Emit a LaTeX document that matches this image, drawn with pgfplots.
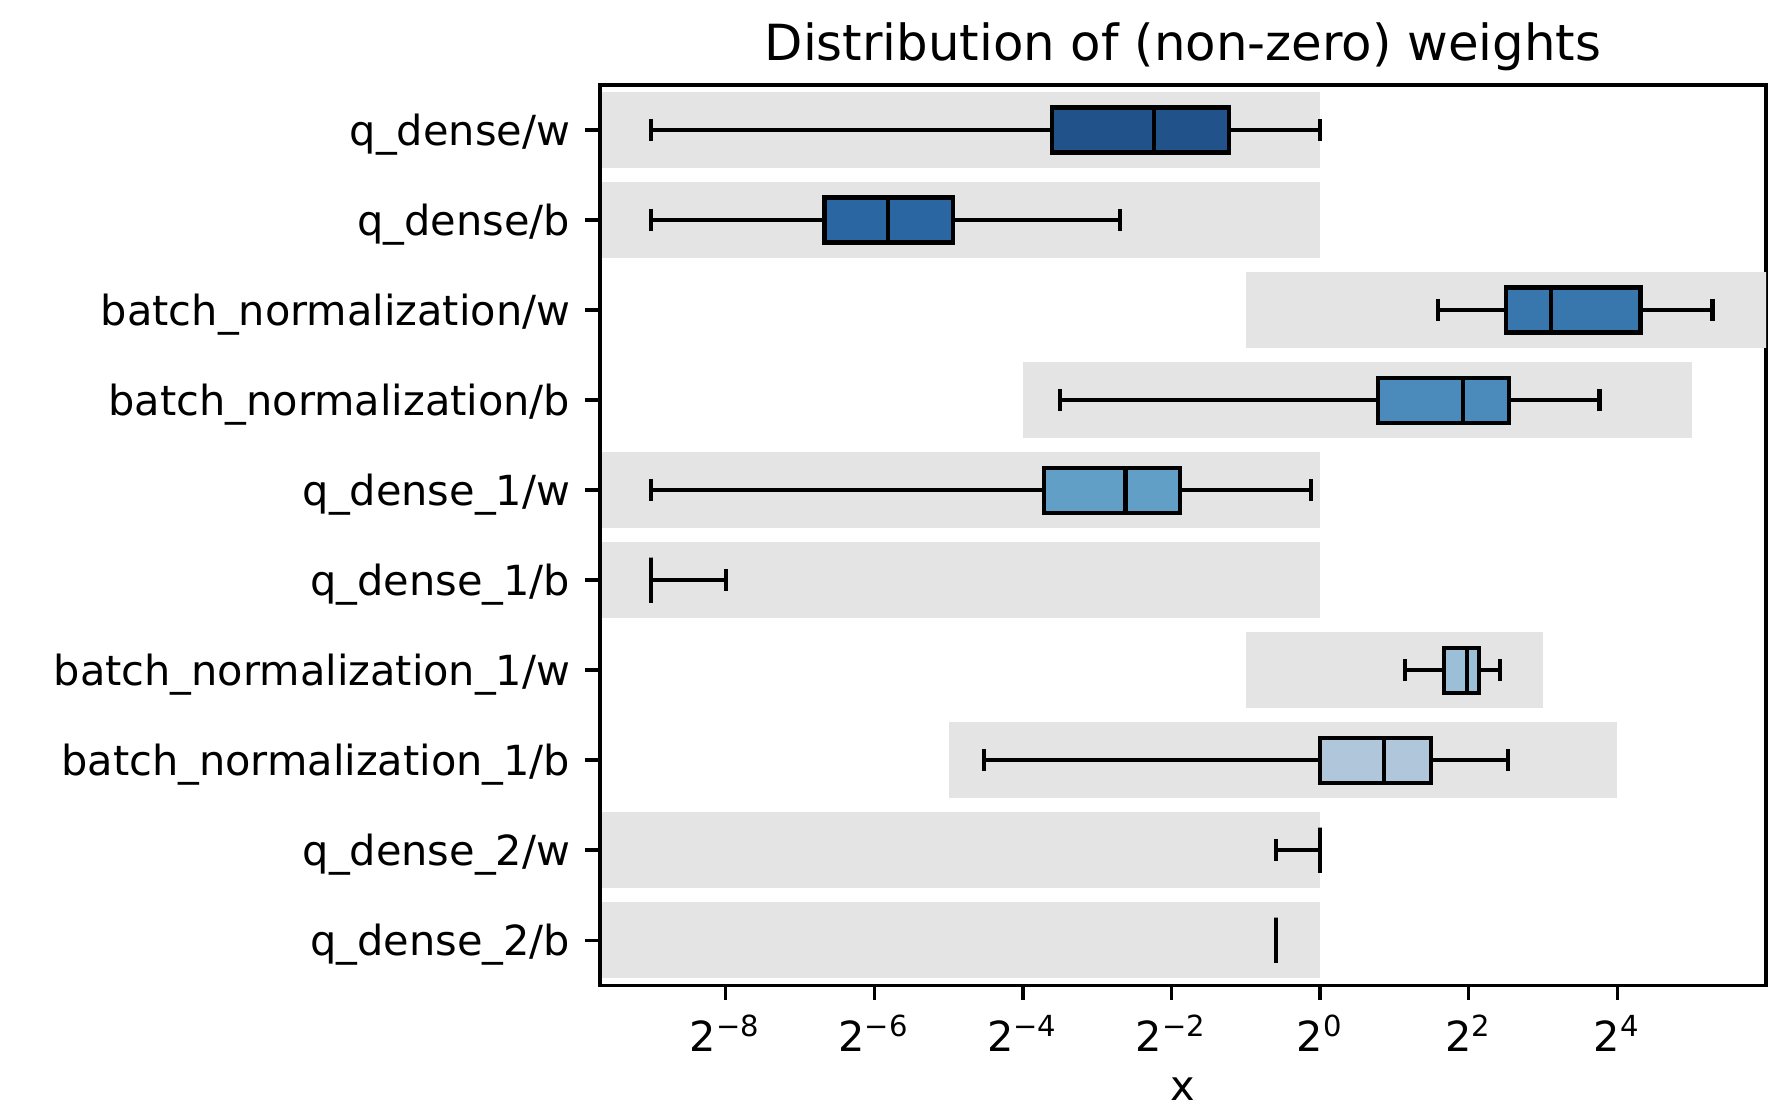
\documentclass[border=0pt]{standalone}
\usepackage{fontspec}
\setmainfont{DejaVu Sans}
\usepackage{pgfplots}
\pgfplotsset{compat=1.18}
\usepgfplotslibrary{statistics}

\definecolor{band}{HTML}{E4E4E4}
\definecolor{c1}{HTML}{215289}
\definecolor{c2}{HTML}{2A66A2}
\definecolor{c3}{HTML}{3877AE}
\definecolor{c4}{HTML}{4B8BBC}
\definecolor{c5}{HTML}{629FC6}
\definecolor{c6}{HTML}{7DB1D1}
\definecolor{c7}{HTML}{9BBFD7}
\definecolor{c8}{HTML}{B0C7DB}
\definecolor{c9}{HTML}{C6D5E4}
\definecolor{c10}{HTML}{DCE5EE}

% values are log2 of the weights
\pgfplotsset{
  bx/.style={draw=black, line width=1pt, fill=#1,
    boxplot/draw direction=x,
    boxplot/box extend=0.5,
    boxplot/whisker extend=0.25},
  bandfill/.style={fill=band, draw=none, forget plot},
}

\begin{document}
\begin{tikzpicture}
\begin{axis}[
    width=281.1pt, height=217.0pt, scale only axis,
    xmin=-9.69, xmax=6.0,
    ymin=0.5, ymax=10.5,
    y dir=reverse,
    axis line style={line width=0.8pt},
    tick style={line width=0.8pt, black},
    major tick length=3.5pt,
    tick align=outside,
    tick pos=left,
    xtick={-8,-6,-4,-2,0,2,4},
    xticklabels={2\textsuperscript{−8},2\textsuperscript{−6},2\textsuperscript{−4},2\textsuperscript{−2},2\textsuperscript{0},2\textsuperscript{2},2\textsuperscript{4}},
    xticklabel style={inner sep=0pt, anchor=north, yshift=-3.5pt},
    ytick={1,...,10},
    yticklabels={q\_dense/w, q\_dense/b, batch\_normalization/w, batch\_normalization/b,
      q\_dense\_1/w, q\_dense\_1/b, batch\_normalization\_1/w, batch\_normalization\_1/b,
      q\_dense\_2/w, q\_dense\_2/b},
    yticklabel style={inner sep=0pt, anchor=east, xshift=-3.5pt, yshift=-1.1pt},
    xlabel={x},
    every axis x label/.style={at={(axis description cs:0.5,0)}, anchor=base, yshift=-27.8pt},
    title={Distribution of (non-zero) weights},
    every axis title/.style={at={(axis description cs:0.5,1)}, anchor=base, yshift=6pt,
      font=\fontsize{12}{14.4}\selectfont},
]
% grey ranges behind each row
\addplot[bandfill] coordinates {(-9.66,0.58) (0,0.58) (0,1.42) (-9.66,1.42)};
\addplot[bandfill] coordinates {(-9.66,1.58) (0,1.58) (0,2.42) (-9.66,2.42)};
\addplot[bandfill] coordinates {(-1,2.58) (6.5,2.58) (6.5,3.42) (-1,3.42)};
\addplot[bandfill] coordinates {(-4,3.58) (5,3.58) (5,4.42) (-4,4.42)};
\addplot[bandfill] coordinates {(-9.66,4.58) (0,4.58) (0,5.42) (-9.66,5.42)};
\addplot[bandfill] coordinates {(-9.66,5.58) (0,5.58) (0,6.42) (-9.66,6.42)};
\addplot[bandfill] coordinates {(-1,6.58) (3,6.58) (3,7.42) (-1,7.42)};
\addplot[bandfill] coordinates {(-5,7.58) (4,7.58) (4,8.42) (-5,8.42)};
\addplot[bandfill] coordinates {(-9.66,8.58) (0,8.58) (0,9.42) (-9.66,9.42)};
\addplot[bandfill] coordinates {(-9.66,9.58) (0,9.58) (0,10.42) (-9.66,10.42)};

% boxes
\addplot[bx=c1, boxplot prepared={draw position=1, lower whisker=-9, lower quartile=-3.61,
  median=-2.24, upper quartile=-1.23, upper whisker=0}] coordinates {};
\addplot[bx=c2, boxplot prepared={draw position=2, lower whisker=-9, lower quartile=-6.67,
  median=-5.82, upper quartile=-4.94, upper whisker=-2.69}] coordinates {};
\addplot[bx=c3, boxplot prepared={draw position=3, lower whisker=1.59, lower quartile=2.50,
  median=3.11, upper quartile=4.31, upper whisker=5.28}] coordinates {};
\addplot[bx=c4, boxplot prepared={draw position=4, lower whisker=-3.50, lower quartile=0.78,
  median=1.92, upper quartile=2.54, upper whisker=3.76}] coordinates {};
\addplot[bx=c5, boxplot prepared={draw position=5, lower whisker=-9, lower quartile=-3.71,
  median=-2.62, upper quartile=-1.89, upper whisker=-0.12}] coordinates {};
\addplot[bx=c6, boxplot prepared={draw position=6, lower whisker=-9, lower quartile=-9,
  median=-9, upper quartile=-9, upper whisker=-8}] coordinates {};
\addplot[bx=c7, boxplot prepared={draw position=7, lower whisker=1.14, lower quartile=1.67,
  median=1.98, upper quartile=2.14, upper whisker=2.42}] coordinates {};
\addplot[bx=c8, boxplot prepared={draw position=8, lower whisker=-4.52, lower quartile=0,
  median=0.86, upper quartile=1.49, upper whisker=2.53}] coordinates {};
\addplot[bx=c9, boxplot prepared={draw position=9, lower whisker=-0.59, lower quartile=0,
  median=0, upper quartile=0, upper whisker=0}] coordinates {};
\addplot[bx=c10, boxplot prepared={draw position=10, lower whisker=-0.59, lower quartile=-0.59,
  median=-0.59, upper quartile=-0.59, upper whisker=-0.59}] coordinates {};
\end{axis}
\pgfresetboundingbox
\path ([shift={(-144.65pt,-29.2pt)}]current axis.south west)
  rectangle ([shift={(5.3pt,20.5pt)}]current axis.north east);
\end{tikzpicture}
\end{document}
